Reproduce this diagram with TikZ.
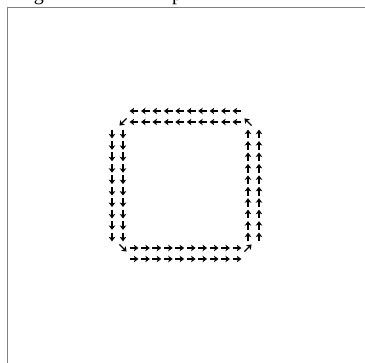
\documentclass[tikz,border=0pt]{standalone}
\usepackage{fontspec}
\setmainfont{Liberation Serif}
\usetikzlibrary{arrows.meta}
\newcommand\vecat[5]{\draw[vec] ({#1-#3*#5},{#2-#4*#5}) -- ({#1+#3*#5},{#2+#4*#5});}
\begin{document}
\begin{tikzpicture}[x=1pt,y=-1pt,
  vec/.style={line width=1.2pt,-{Stealth[length=4.5pt,width=6.5pt,inset=1.2pt]}},
  frame/.style={draw=black!50, line width=1.6pt},
  cut/.style={anchor=base,font=\fontsize{20}{20}\selectfont,inner sep=0pt}]
\useasboundingbox (0,0) rectangle (365,363);
% partially visible caption letters above the frame
\node[cut] (g) at (39,0.3) {g};
\node[cut] (p) at (177,0.3) {p};
% frame (only left and top edges inside the picture)
\draw[frame] (7.5,363) -- (7.5,7.5) -- (365,7.5);
% edges of the circulating field
\foreach \k in {0,...,9}{
  \pgfmathsetmacro\p{134+11.44*\k}
  \vecat{\p}{111}{-1}{0}{4.4}
  \vecat{\p}{122}{-1}{0}{4.4}
  \vecat{112}{\p}{0}{1}{4.4}
  \vecat{123}{\p}{0}{1}{4.4}
  \vecat{\p}{248}{1}{0}{4.4}
  \vecat{\p}{259}{1}{0}{4.4}
  \vecat{248}{\p}{0}{-1}{4.4}
  \vecat{259}{\p}{0}{-1}{4.4}
}
% corners
\vecat{123}{122}{-0.7071}{0.7071}{5}
\vecat{123}{248}{0.7071}{0.7071}{5}
\vecat{248}{248}{0.7071}{-0.7071}{5}
\vecat{248}{122}{-0.7071}{-0.7071}{5}
\end{tikzpicture}
\end{document}
